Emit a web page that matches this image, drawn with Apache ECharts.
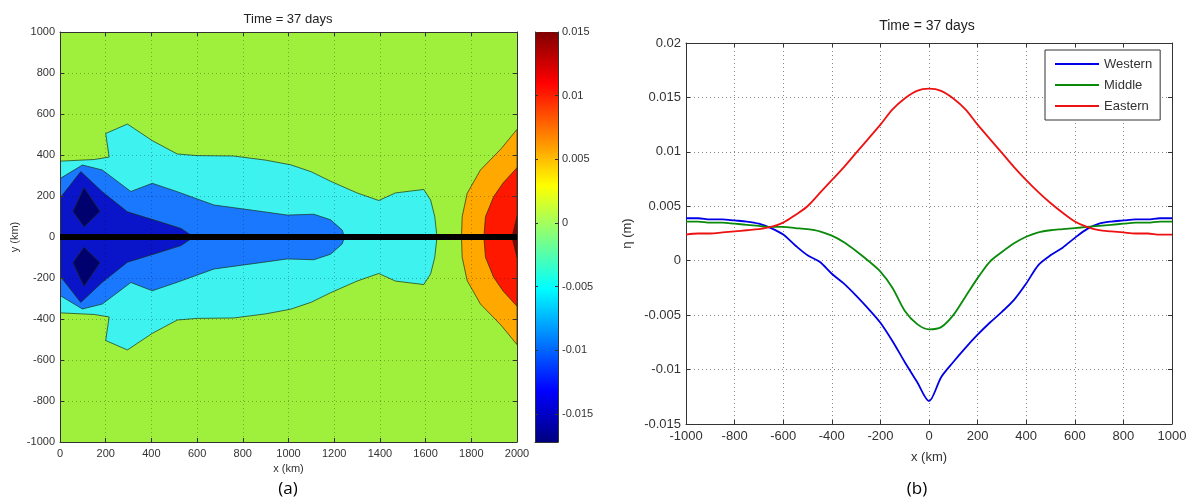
<!DOCTYPE html>
<html lang="en">
<head>
<meta charset="UTF-8">
<title>Time = 37 days</title>
<script src="https://cdn.jsdelivr.net/npm/echarts@6/dist/echarts.min.js"></script>
<style>
  * { margin: 0; padding: 0; }
  body { background: #fff; }
  #main { width: 1192px; height: 502px; }
</style>
</head>
<body>
<div id="main"></div>
<script>
// ---- data ----
// (b) profiles, x in km
var xKm = [-1000, -950, -900, -850, -800, -750, -700, -650, -600, -550, -500, -450, -400, -350, -300, -250, -200, -150, -100, -50,
  0, 50, 100, 150, 200, 250, 300, 350, 400, 450, 500, 550, 600, 650, 700, 750, 800, 850, 900, 950, 1000];
var western = [0.0039, 0.0039, 0.0038, 0.0038, 0.0037, 0.0036, 0.0034, 0.0030, 0.0024, 0.0014, 0.0005, -0.0001, -0.0012, -0.0021, -0.0032, -0.0044, -0.0057, -0.0074, -0.0093, -0.0111,
  -0.0129, -0.0107, -0.0093, -0.0080, -0.0068, -0.0057, -0.0047, -0.0036, -0.0021, -0.0004, 0.0005, 0.0012, 0.0021, 0.0029, 0.0034, 0.0036, 0.0037, 0.0038, 0.0038, 0.0039, 0.0039];
var middle = [0.0036, 0.0036, 0.0035, 0.0035, 0.0034, 0.0033, 0.0032, 0.0031, 0.0031, 0.0030, 0.0029, 0.0027, 0.0023, 0.0017, 0.0009, 0.0000, -0.0010, -0.0025, -0.0046, -0.0058,
  -0.0063, -0.0061, -0.0050, -0.0033, -0.0016, -0.0001, 0.0008, 0.0016, 0.0022, 0.0026, 0.0028, 0.0029, 0.0030, 0.0031, 0.0032, 0.0033, 0.0034, 0.0035, 0.0035, 0.0036, 0.0036];
var eastern = [0.0024, 0.0025, 0.0025, 0.0026, 0.0027, 0.0028, 0.0029, 0.0031, 0.0035, 0.0042, 0.0050, 0.0062, 0.0074, 0.0086, 0.0099, 0.0112, 0.0125, 0.0139, 0.0149, 0.0156,
  0.0158, 0.0156, 0.0149, 0.0139, 0.0125, 0.0112, 0.0099, 0.0086, 0.0074, 0.0063, 0.0053, 0.0044, 0.0036, 0.0031, 0.0028, 0.0027, 0.0026, 0.0025, 0.0025, 0.0024, 0.0024];

// (a) contour boundaries, upper half (x km, y km); field is mirrored about y = 0
var plotBox = [[0, -1000], [0, 1000], [2000, 1000], [2000, -1000]];
var cyanUpper = [[0, 370], [150, 378], [215, 390], [200, 505], [295, 551], [404, 470], [513, 405], [600, 397], [760, 395],
  [900, 375], [1010, 352], [1100, 318], [1184, 272], [1300, 215], [1395, 178], [1468, 215], [1592, 232], [1622, 180], [1640, 100], [1650, 0]];
var blueUpper = [[0, 285], [98, 351], [185, 327], [310, 222], [404, 262], [513, 221], [674, 156], [892, 123], [994, 107],
  [1111, 111], [1184, 84], [1235, 34], [1245, 0]];
var navyUpper = [[0, 190], [91, 319], [185, 221], [295, 123], [420, 80], [530, 42], [585, 0]];
var deepCore = [[57, 125], [105, 240], [175, 125], [105, 50]];
var orangeUpper = [[2000, 525], [1930, 430], [1840, 327], [1782, 213], [1760, 99], [1757, 0]];
var redUpper = [[2000, 338], [1940, 265], [1898, 197], [1862, 99], [1855, 0]];
var darkRedUpper = [[2000, 100], [1978, 0]];
var sectionLine = [[0, 0], [2000, 0]];

// colour bar
var cbMin = -0.0172, cbMax = 0.015;
var cbTicks = [-0.015, -0.01, -0.005, 0, 0.005, 0.01, 0.015];

// ---- helpers ----
function mirror(upper) {
  var lower = upper.slice().reverse().map(function (p) { return [p[0], -p[1]]; });
  return upper.concat(lower);
}
function flip(poly) {
  return poly.map(function (p) { return [p[0], -p[1]]; });
}

var jet = ['#00006e', '#0a14c8', '#1a78ff', '#3ef2ef', '#9ef03c', '#ffa800', '#ff1800', '#8a0000'];
var regions = [
  { pts: plotBox, color: jet[4], edge: false },
  { pts: mirror(cyanUpper), color: jet[3], edge: true },
  { pts: mirror(blueUpper), color: jet[2], edge: true },
  { pts: mirror(navyUpper), color: jet[1], edge: true },
  { pts: deepCore, color: jet[0], edge: true },
  { pts: flip(deepCore), color: jet[0], edge: true },
  { pts: mirror(orangeUpper), color: jet[5], edge: true },
  { pts: mirror(redUpper), color: jet[6], edge: true },
  { pts: mirror(darkRedUpper), color: jet[7], edge: true }
];

var chart = echarts.init(document.getElementById('main'));
var FONT = 'Liberation Sans, Arial, sans-serif';
var lbl = { color: '#333', fontSize: 11, fontFamily: FONT };
var lbl2 = { color: '#333', fontSize: 13, fontFamily: FONT };
var frame = { show: true, onZero: false, lineStyle: { color: '#333', width: 1 } };
var gridDots = { show: true, lineStyle: { color: 'rgba(0,0,0,0.28)', type: [1, 3], width: 1 } };
var gridDots2 = { show: true, lineStyle: { color: '#888', type: [1, 3], width: 1 } };
var tickIn = { show: true, inside: true, length: 4, lineStyle: { color: '#333' } };

function fmt(v) { return String(+(+v).toFixed(4)); }

var option = {
  animation: false,
  backgroundColor: '#fff',
  grid: [
    { left: 60, top: 32, width: 457, height: 410 },
    { left: 535, top: 32, width: 23, height: 410 },
    { left: 686, top: 43, width: 486, height: 381 }
  ],
  xAxis: [
    { gridIndex: 0, type: 'value', min: 0, max: 2000, interval: 200, z: 5, axisLine: frame, axisTick: tickIn,
      axisLabel: Object.assign({ margin: 6, formatter: fmt }, lbl), splitLine: gridDots,
      name: 'x (km)', nameLocation: 'middle', nameGap: 19, nameTextStyle: lbl },
    { gridIndex: 0, type: 'value', position: 'top', min: 0, max: 2000, interval: 200, z: 5, axisLine: frame, axisTick: tickIn,
      axisLabel: { show: false }, splitLine: { show: false } },
    { gridIndex: 1, type: 'value', min: 0, max: 1, axisLine: frame, axisTick: { show: false }, axisLabel: { show: false }, splitLine: { show: false } },
    { gridIndex: 2, type: 'value', min: -1000, max: 1000, interval: 200, axisLine: frame, axisTick: tickIn,
      axisLabel: Object.assign({ margin: 6, formatter: fmt }, lbl2), splitLine: gridDots2,
      name: 'x (km)', nameLocation: 'middle', nameGap: 27, nameTextStyle: lbl2 },
    { gridIndex: 2, type: 'value', position: 'top', min: -1000, max: 1000, interval: 200, axisLine: frame, axisTick: tickIn,
      axisLabel: { show: false }, splitLine: { show: false } }
  ],
  yAxis: [
    { gridIndex: 0, type: 'value', min: -1000, max: 1000, interval: 200, z: 5, axisLine: frame, axisTick: tickIn,
      axisLabel: Object.assign({ margin: 5, formatter: fmt }, lbl), splitLine: gridDots,
      name: 'y (km)', nameLocation: 'middle', nameGap: 40, nameTextStyle: lbl },
    { gridIndex: 0, type: 'value', position: 'right', min: -1000, max: 1000, interval: 200, z: 5, axisLine: frame, axisTick: tickIn,
      axisLabel: { show: false }, splitLine: { show: false } },
    { gridIndex: 1, type: 'value', position: 'right', min: cbMin, max: cbMax, z: 5, axisLine: frame,
      axisTick: { show: true, inside: true, length: 3, customValues: cbTicks, lineStyle: { color: '#333' } },
      axisLabel: Object.assign({ margin: 4, customValues: cbTicks, formatter: fmt }, lbl), splitLine: { show: false } },
    { gridIndex: 1, type: 'value', position: 'left', min: cbMin, max: cbMax, z: 5, axisLine: frame,
      axisTick: { show: true, inside: true, length: 3, customValues: cbTicks, lineStyle: { color: '#333' } },
      axisLabel: { show: false }, splitLine: { show: false } },
    { gridIndex: 2, type: 'value', min: -0.015, max: 0.02, interval: 0.005, axisLine: frame, axisTick: tickIn,
      axisLabel: Object.assign({ margin: 5, formatter: fmt }, lbl2), splitLine: gridDots2,
      name: 'η (m)', nameLocation: 'middle', nameGap: 52, nameTextStyle: lbl2 },
    { gridIndex: 2, type: 'value', position: 'right', min: -0.015, max: 0.02, interval: 0.005, axisLine: frame, axisTick: tickIn,
      axisLabel: { show: false }, splitLine: { show: false } }
  ],
  legend: {
    data: ['Western', 'Middle', 'Eastern'],
    orient: 'vertical', left: 1045, top: 50,
    backgroundColor: '#fff', borderColor: '#333', borderWidth: 1, borderRadius: 0,
    padding: [7, 8, 7, 10], itemGap: 7, itemWidth: 44, itemHeight: 2, icon: 'rect',
    textStyle: { color: '#333', fontSize: 13, fontFamily: FONT, lineHeight: 14 }
  },
  graphic: [
    { type: 'text', style: { text: 'Time = 37 days', x: 288, y: 19, align: 'center', verticalAlign: 'middle', font: '13px ' + FONT, fill: '#222' } },
    { type: 'text', style: { text: 'Time = 37 days', x: 927, y: 26, align: 'center', verticalAlign: 'middle', font: '14px ' + FONT, fill: '#222' } },
    { type: 'text', style: { text: '(a)', x: 288, y: 489, align: 'center', verticalAlign: 'middle', font: '17px Open Sans, sans-serif', fill: '#000' } },
    { type: 'text', style: { text: '(b)', x: 917, y: 489, align: 'center', verticalAlign: 'middle', font: '17px Open Sans, sans-serif', fill: '#000' } }
  ],
  series: [
    {
      type: 'custom', xAxisIndex: 0, yAxisIndex: 0, clip: true, z: 2,
      data: regions.map(function (r) { return r.pts[0]; }),
      renderItem: function (params, api) {
        var r = regions[params.dataIndex];
        return {
          type: 'polygon',
          shape: { points: r.pts.map(function (p) { return api.coord(p); }) },
          style: { fill: r.color, stroke: r.edge ? 'rgba(25,45,15,0.85)' : null, lineWidth: 0.8 }
        };
      }
    },
    {
      type: 'line', xAxisIndex: 0, yAxisIndex: 0, z: 6, symbol: 'none',
      data: sectionLine, lineStyle: { color: '#000', width: 6 }
    },
    {
      type: 'custom', xAxisIndex: 2, yAxisIndex: 2,
      data: [[0, cbMin, 1, cbMax]],
      renderItem: function (params, api) {
        var p0 = api.coord([api.value(0), api.value(1)]);
        var p1 = api.coord([api.value(2), api.value(3)]);
        return {
          type: 'rect',
          shape: { x: p0[0], y: p1[1], width: p1[0] - p0[0], height: p0[1] - p1[1] },
          style: {
            fill: new echarts.graphic.LinearGradient(0, 1, 0, 0, [
              { offset: 0, color: '#000080' }, { offset: 0.125, color: '#0000ff' },
              { offset: 0.375, color: '#00ffff' }, { offset: 0.5, color: '#80ff80' },
              { offset: 0.625, color: '#ffff00' }, { offset: 0.875, color: '#ff0000' },
              { offset: 1, color: '#800000' }
            ])
          }
        };
      }
    },
    { name: 'Western', type: 'line', xAxisIndex: 3, yAxisIndex: 4, symbol: 'none', smooth: 0.3,
      data: xKm.map(function (x, i) { return [x, western[i]]; }), lineStyle: { color: '#0000e6', width: 1.8 }, itemStyle: { color: '#0000e6' } },
    { name: 'Middle', type: 'line', xAxisIndex: 3, yAxisIndex: 4, symbol: 'none', smooth: 0.3,
      data: xKm.map(function (x, i) { return [x, middle[i]]; }), lineStyle: { color: '#0a8a0a', width: 1.8 }, itemStyle: { color: '#0a8a0a' } },
    { name: 'Eastern', type: 'line', xAxisIndex: 3, yAxisIndex: 4, symbol: 'none', smooth: 0.3,
      data: xKm.map(function (x, i) { return [x, eastern[i]]; }), lineStyle: { color: '#ee1111', width: 1.8 }, itemStyle: { color: '#ee1111' } }
  ]
};
chart.setOption(option);
</script>
</body>
</html>
